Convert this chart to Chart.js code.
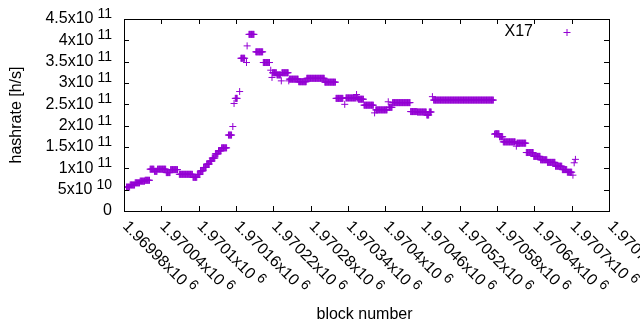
<!DOCTYPE html>
<html>
<head>
<meta charset="utf-8">
<script src="https://cdn.jsdelivr.net/npm/chart.js@4.4.0/dist/chart.umd.min.js"></script>
<style>
  html, body { margin: 0; padding: 0; background: #fff; }
  canvas { display: block; }
</style>
</head>
<body>
<canvas id="chart" width="640" height="330"></canvas>
<script>
// runs of blocks that share one hashrate value (first block, last block, H/s)
const runFirst = [
  1969984, 1969990, 1969998, 1970006, 1970014,
  1970022, 1970029, 1970034, 1970048, 1970055,
  1970069, 1970091,
  1970098, 1970103, 1970108, 1970113, 1970118, 1970122, 1970127, 1970132, 1970137,
  1970148, 1970155, 1970157, 1970159, 1970166, 1970168, 1970177, 1970178, 1970181,
  1970192, 1970204, 1970216, 1970218, 1970219, 1970226, 1970233, 1970234, 1970245,
  1970246, 1970261, 1970274, 1970303,
  1970321, 1970335, 1970337, 1970354, 1970355, 1970357, 1970366, 1970383, 1970385,
  1970405, 1970406, 1970412, 1970441, 1970452, 1970467, 1970471, 1970476, 1970478,
  1970576, 1970577, 1970584, 1970590, 1970611, 1970612, 1970627, 1970639, 1970650,
  1970661, 1970674, 1970685, 1970693, 1970702, 1970704, 1970706
];
const runLast = [
  1969989, 1969997, 1970005, 1970013, 1970021,
  1970028, 1970033, 1970047, 1970054, 1970066,
  1970090, 1970097,
  1970102, 1970107, 1970112, 1970117, 1970121, 1970126, 1970131, 1970136, 1970145,
  1970153, 1970155, 1970157, 1970162, 1970166, 1970174, 1970177, 1970178, 1970189,
  1970203, 1970214, 1970216, 1970218, 1970225, 1970232, 1970233, 1970244, 1970245,
  1970260, 1970273, 1970302, 1970320,
  1970332, 1970335, 1970353, 1970354, 1970356, 1970365, 1970381, 1970383, 1970403,
  1970405, 1970411, 1970440, 1970451, 1970466, 1970470, 1970474, 1970476, 1970574,
  1970576, 1970583, 1970589, 1970609, 1970611, 1970626, 1970638, 1970649, 1970660,
  1970673, 1970684, 1970692, 1970700, 1970702, 1970704, 1970706
];
const runHashrate = [
  5.6e10, 6.1e10, 6.6e10, 7.0e10, 7.2e10,
  9.8e10, 9.3e10, 9.8e10, 9.0e10, 9.7e10,
  8.6e10, 7.9e10,
  8.55e10, 9.4e10, 1.02e11, 1.10e11, 1.17e11, 1.24e11, 1.34e11, 1.41e11, 1.48e11,
  1.78e11, 1.98e11, 2.52e11, 2.64e11, 2.80e11, 3.58e11, 3.48e11, 3.87e11, 4.14e11,
  3.73e11, 3.48e11, 3.30e11, 3.13e11, 3.24e11, 3.19e11, 3.05e11, 3.24e11, 3.05e11,
  3.09e11, 3.03e11, 3.11e11, 3.02e11,
  2.64e11, 2.50e11, 2.65e11, 2.73e11, 2.65e11, 2.62e11, 2.48e11, 2.30e11, 2.37e11,
  2.56e11, 2.43e11, 2.54e11, 2.33e11, 2.32e11, 2.25e11, 2.32e11, 2.68e11, 2.60e11,
  1.80e11, 1.81e11, 1.74e11, 1.62e11, 1.52e11, 1.59e11, 1.37e11, 1.28e11, 1.20e11,
  1.14e11, 1.05e11, 0.97e11, 0.91e11, 0.84e11, 1.13e11, 1.21e11
];
const seriesName = 'X17';

const xTicks = [1969980, 1970040, 1970100, 1970160, 1970220, 1970280, 1970340,
  1970400, 1970460, 1970520, 1970580, 1970640, 1970700, 1970760];
const xTickLabels = ['1.96998', '1.97004', '1.9701', '1.97016', '1.97022', '1.97028', '1.97034',
  '1.9704', '1.97046', '1.97052', '1.97058', '1.97064', '1.9707', '1.97076'];
const xTickExp = '6';
const yTicks = [0, 5e10, 1e11, 1.5e11, 2e11, 2.5e11, 3e11, 3.5e11, 4e11, 4.5e11];
const yTickLabels = ['0', '5', '1', '1.5', '2', '2.5', '3', '3.5', '4', '4.5'];
const yTickExp = ['', '10', '11', '11', '11', '11', '11', '11', '11', '11'];

const FONT = '"Liberation Sans", Arial, sans-serif';
const COLOR = '#9400d3';
const TICK = 5;

// one point per block inside each run
const points = [];
runFirst.forEach((first, i) => {
  for (let b = first; b <= runLast[i]; b++) points.push({ x: b, y: runHashrate[i] });
});

// gnuplot style frame: border, mirrored inward ticks, enhanced-text labels, key
const gnuplotFrame = {
  id: 'gnuplotFrame',
  afterDatasetsDraw(chart) {
    const { ctx, chartArea: a, scales: { x, y } } = chart;
    ctx.save();
    ctx.strokeStyle = '#000';
    ctx.lineWidth = 1;
    ctx.beginPath();
    xTicks.forEach(v => {
      const px = Math.round(x.getPixelForValue(v)) + 0.5;
      ctx.moveTo(px, a.bottom); ctx.lineTo(px, a.bottom - TICK);
      ctx.moveTo(px, a.top); ctx.lineTo(px, a.top + TICK);
    });
    yTicks.forEach(v => {
      const py = Math.round(y.getPixelForValue(v)) + 0.5;
      ctx.moveTo(a.left, py); ctx.lineTo(a.left + TICK, py);
      ctx.moveTo(a.right, py); ctx.lineTo(a.right - TICK, py);
    });
    ctx.stroke();
    ctx.strokeRect(a.left + 0.5, a.top + 0.5, a.right - a.left, a.bottom - a.top);

    ctx.fillStyle = '#000';
    ctx.textBaseline = 'middle';

    // y tick labels, right aligned
    yTicks.forEach((v, i) => {
      const py = y.getPixelForValue(v);
      let right = a.left - 12;
      ctx.textAlign = 'right';
      if (yTickExp[i]) {
        ctx.font = '14px ' + FONT;
        ctx.fillText(yTickExp[i], right, py - 5);
        right -= ctx.measureText(yTickExp[i]).width + 4;
        ctx.font = '16px ' + FONT;
        ctx.fillText(yTickLabels[i] + 'x10', right, py);
      } else {
        ctx.font = '16px ' + FONT;
        ctx.fillText(yTickLabels[i], right, py);
      }
    });

    // x tick labels, rotated 45 degrees clockwise
    xTicks.forEach((v, i) => {
      const px = x.getPixelForValue(v);
      ctx.save();
      ctx.translate(px + 1, a.bottom + 13);
      ctx.rotate(Math.PI / 4);
      ctx.textAlign = 'left';
      ctx.font = '16px ' + FONT;
      const base = xTickLabels[i] + 'x10';
      ctx.fillText(base, 0, 0);
      const w = ctx.measureText(base).width;
      ctx.font = '14px ' + FONT;
      ctx.fillText(xTickExp, w + 4, -5);
      ctx.restore();
    });

    // axis titles
    ctx.font = '16px ' + FONT;
    ctx.textAlign = 'center';
    ctx.fillText('block number', (a.left + a.right) / 2 - 2, 315);
    ctx.save();
    ctx.translate(17, (a.top + a.bottom) / 2);
    ctx.rotate(-Math.PI / 2);
    ctx.fillText('hashrate [h/s]', 0, 0);
    ctx.restore();

    // key
    ctx.textAlign = 'right';
    ctx.fillText(chart.data.datasets[0].label, 533, 32);
    ctx.strokeStyle = COLOR;
    ctx.beginPath();
    ctx.moveTo(563.5, 32.5); ctx.lineTo(570.5, 32.5);
    ctx.moveTo(567, 29); ctx.lineTo(567, 36);
    ctx.stroke();
    ctx.restore();
  }
};

new Chart(document.getElementById('chart'), {
  type: 'scatter',
  data: {
    datasets: [{
      label: seriesName,
      data: points,
      pointStyle: 'cross',
      pointRadius: 3.5,
      pointHoverRadius: 3.5,
      borderWidth: 1,
      borderColor: COLOR,
      backgroundColor: COLOR,
      showLine: false
    }]
  },
  options: {
    responsive: false,
    animation: false,
    events: [],
    layout: { padding: { left: 124, top: 19, right: 31, bottom: 119 } },
    plugins: { legend: { display: false }, tooltip: { enabled: false } },
    scales: {
      x: { type: 'linear', min: 1969980, max: 1970760, display: false },
      y: { type: 'linear', min: 0, max: 4.5e11, display: false }
    }
  },
  plugins: [gnuplotFrame]
});
</script>
</body>
</html>
